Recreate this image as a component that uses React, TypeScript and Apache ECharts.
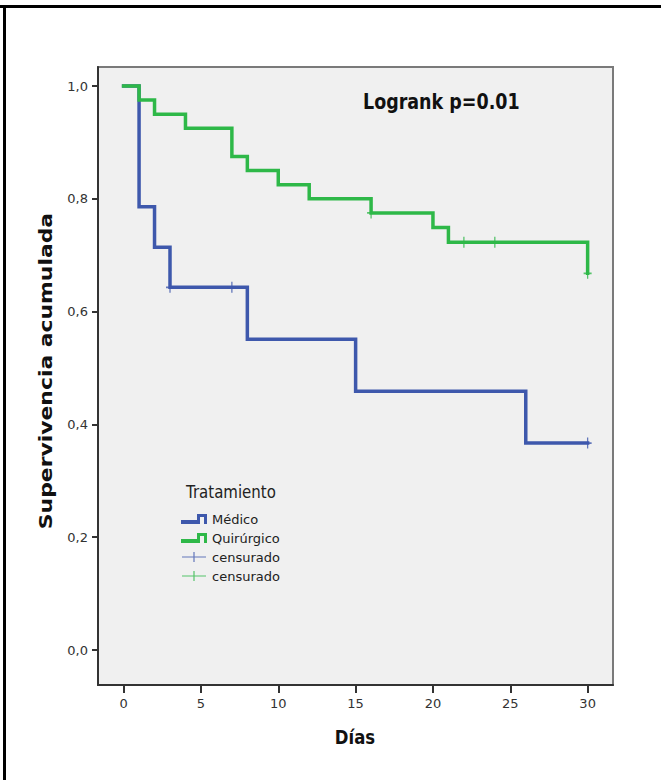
import React, { useEffect, useRef } from "react";
import * as echarts from "echarts";

// ---- data ----
const xTicks = [0, 5, 10, 15, 20, 25, 30];
const yTicks = [0, 0.2, 0.4, 0.6, 0.8, 1.0];

// Kaplan-Meier steps [day, cumulative survival]
const medicoSteps = [
  [0, 1.0], [1, 0.786], [2, 0.714], [3, 0.643], [8, 0.551], [15, 0.459], [26, 0.367], [30, 0.367],
];
const quirurgicoSteps = [
  [0, 1.0], [1, 0.975], [2, 0.95], [4, 0.925], [7, 0.875], [8, 0.85], [10, 0.825], [12, 0.8],
  [16, 0.775], [20, 0.749], [21, 0.723], [30, 0.668],
];
// censored observations
const medicoCensored = [[3, 0.643], [7, 0.643], [30, 0.367]];
const quirurgicoCensored = [[16, 0.775], [22, 0.723], [24, 0.723], [30, 0.668]];

const seriesNames = ["Médico", "Quirúrgico", "censurado", "censurado "];
const legendTitle = "Tratamiento";
const annotation = "Logrank p=0.01";
const xTitle = "Días";
const yTitle = "Supervivencia acumulada";

const BLUE = "#3E58AC";
const GREEN = "#2EB848";
const FONT = '"DejaVu Sans", "Noto Sans", sans-serif';

const STEP_ICON = "path://M0,6 L16,6 L16,0 L26,0 L26,10 L23,10 L23,3 L19,3 L19,10 L0,10 Z";
const PLUS_ICON = "path://M0,4.4 L24,4.4 L24,5.6 L0,5.6 Z M11.4,0 L12.6,0 L12.6,10 L11.4,10 Z";
const CENSOR_SYMBOL = "path://M5,0 L5,10 M0,5 L10,5";

export default function App() {
  const ref = useRef<HTMLDivElement>(null);

  useEffect(() => {
    document.body.style.margin = "0";
    if (!ref.current) return;
    const chart = echarts.init(ref.current, null, { renderer: "svg" });
    const SY = 1.23;

    const option: any = {
      animation: false,
      backgroundColor: "#ffffff",
      grid: {
        left: 98,
        top: 67,
        right: 48,
        bottom: 95,
        show: true,
        backgroundColor: "#F0F0F0",
        borderColor: "#7a7a7a",
        borderWidth: 2,
      },
      xAxis: {
        type: "value",
        min: -1.655,
        max: 31.64,
        axisLine: { show: true, onZero: false, lineStyle: { color: "#333", width: 2 } },
        axisTick: { show: true, customValues: xTicks, length: 8, lineStyle: { color: "#333", width: 2 } },
        axisLabel: {
          customValues: xTicks,
          margin: 12,
          fontSize: 13,
          color: "#333",
          fontFamily: FONT,
        },
        splitLine: { show: false },
      },
      yAxis: {
        type: "value",
        min: -0.062,
        max: 1.0337,
        axisLine: { show: true, onZero: false, lineStyle: { color: "#333", width: 2 } },
        axisTick: { show: true, customValues: yTicks, length: 6, lineStyle: { color: "#333", width: 2 } },
        axisLabel: {
          customValues: yTicks,
          margin: 10,
          fontSize: 13,
          color: "#333",
          fontFamily: FONT,
          formatter: (v: number) => v.toFixed(1).replace(".", ","),
        },
        splitLine: { show: false },
      },
      legend: {
        orient: "vertical",
        left: 181,
        top: 512,
        padding: 0,
        itemGap: 5,
        itemWidth: 26,
        itemHeight: 10,
        selectedMode: false,
        textStyle: { fontSize: 13, color: "#222", fontFamily: FONT, lineHeight: 14 },
        formatter: (n: string) => n.trim(),
        data: [
          { name: seriesNames[0], icon: STEP_ICON, itemStyle: { color: BLUE, borderWidth: 0 } },
          { name: seriesNames[1], icon: STEP_ICON, itemStyle: { color: GREEN, borderWidth: 0 } },
          { name: seriesNames[2], icon: PLUS_ICON, itemStyle: { color: BLUE, borderWidth: 0 } },
          { name: seriesNames[3], icon: PLUS_ICON, itemStyle: { color: GREEN, borderWidth: 0 } },
        ],
      },
      series: [
        {
          name: seriesNames[0],
          type: "line",
          step: "end",
          data: medicoSteps,
          showSymbol: false,
          symbol: "none",
          color: BLUE,
          lineStyle: { color: BLUE, width: 3.5, cap: "square", join: "miter" },
          z: 2,
        },
        {
          name: seriesNames[1],
          type: "line",
          step: "end",
          data: quirurgicoSteps,
          showSymbol: false,
          symbol: "none",
          color: GREEN,
          lineStyle: { color: GREEN, width: 3.5, cap: "square", join: "miter" },
          z: 3,
        },
        {
          name: seriesNames[2],
          type: "scatter",
          data: medicoCensored,
          symbol: CENSOR_SYMBOL,
          symbolSize: [8, 11],
          itemStyle: { color: BLUE, borderColor: BLUE, borderWidth: 1.5 },
          z: 4,
        },
        {
          name: seriesNames[3],
          type: "scatter",
          data: quirurgicoCensored,
          symbol: CENSOR_SYMBOL,
          symbolSize: [8, 11],
          itemStyle: { color: GREEN, borderColor: GREEN, borderWidth: 1.5 },
          z: 4,
        },
      ],
      graphic: [
        { type: "rect", shape: { x: 0, y: 5, width: 661, height: 3 }, style: { fill: "#000" }, silent: true },
        { type: "rect", shape: { x: 3, y: 5, width: 3, height: 775 }, style: { fill: "#000" }, silent: true },
        {
          type: "text",
          x: 363,
          y: 102,
          scaleY: SY,
          style: {
            text: annotation,
            font: `bold 17.5px ${FONT}`,
            fill: "#111",
            align: "left",
            verticalAlign: "middle",
          },
          z: 10,
        },
        {
          type: "text",
          x: 186,
          y: 492,
          scaleY: 1.2,
          style: {
            text: legendTitle,
            font: `15px ${FONT}`,
            fill: "#222",
            align: "left",
            verticalAlign: "middle",
          },
          z: 10,
        },
        {
          type: "text",
          x: 355,
          y: 737,
          scaleY: SY,
          style: {
            text: xTitle,
            font: `bold 16.5px ${FONT}`,
            fill: "#111",
            align: "center",
            verticalAlign: "middle",
          },
          z: 10,
        },
        {
          type: "text",
          x: 46,
          y: 371,
          rotation: Math.PI / 2,
          scaleX: SY,
          style: {
            text: yTitle,
            font: `bold 17.8px ${FONT}`,
            fill: "#111",
            align: "center",
            verticalAlign: "middle",
          },
          z: 10,
        },
      ],
    };

    chart.setOption(option);
    return () => {
      chart.dispose();
    };
  }, []);

  return <div ref={ref} style={{ width: 661, height: 780 }} />;
}
